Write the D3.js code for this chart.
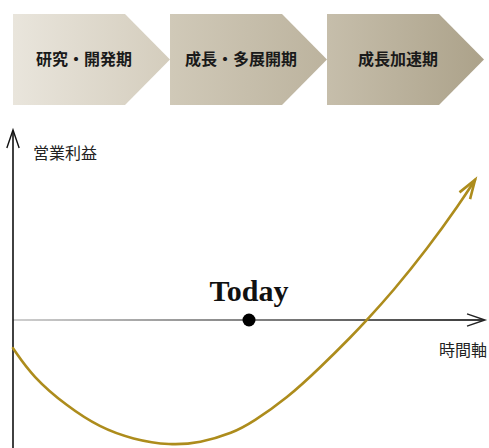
<!DOCTYPE html>
<html>
<head>
<meta charset="utf-8">
<script src="https://cdn.jsdelivr.net/npm/d3@7"></script>
<style>
  html, body { margin: 0; padding: 0; background: #fff; }
  svg { display: block; }
</style>
</head>
<body>
<svg id="chart" width="489" height="448"></svg>
<script>
// Business phases shown as chevrons across the top
const phases = ["研究・開発期", "成長・多展開期", "成長加速期"];
const phaseColors = [["#e9e5dc", "#d4cdbd"], ["#d0c9b8", "#bcb39e"], ["#c6beab", "#aca28a"]];

// Operating profit over time (time 0–100, profit in arbitrary units, 0 = break-even)
const timeValues   = [0, 4.2, 11.4, 18.4, 25.4, 33.3, 39.6, 46.6, 50.8, 58.1, 65, 72, 75, 80.5, 87.7, 94.7, 97.9];
const profitValues = [-8.8, -17.8, -26.9, -33.6, -37.3, -39.2, -38.4, -35.3, -31.9, -24.4, -15, -4.7, 0, 9, 22.1, 36.5, 43.8];

const todayTime = 50;
const todayLabel = "Today";
const yAxisLabel = "営業利益";
const xAxisLabel = "時間軸";

const svg = d3.select("#chart");
const W = 489, H = 448;

// Scales
const x = d3.scaleLinear().domain([0, 100]).range([13, 485]);
const y = d3.scaleLinear().domain([-40, 60]).range([448, 128]);

const defs = svg.append("defs");

// ---- Phase chevrons ----
const phaseBand = d3.scaleBand().domain(phases).range([13, 13 + 157 * 3]).paddingInner(0);
const chevTop = 14, chevBot = 105, chevDepth = 45;

phases.forEach((p, i) => {
  const g = defs.append("linearGradient").attr("id", "pg" + i)
    .attr("x1", "0").attr("x2", "1").attr("y1", "0").attr("y2", "0");
  g.append("stop").attr("offset", "0").attr("stop-color", phaseColors[i][0]);
  g.append("stop").attr("offset", "1").attr("stop-color", phaseColors[i][1]);
});

const chev = svg.append("g").selectAll("g").data(phases).join("g");
chev.append("path")
  .attr("d", d => {
    const x0 = phaseBand(d), x1 = x0 + phaseBand.bandwidth();
    const xr = x1 - chevDepth, ym = (chevTop + chevBot) / 2;
    return `M${x0},${chevTop}L${xr},${chevTop}L${x1},${ym}L${xr},${chevBot}L${x0},${chevBot}Z`;
  })
  .attr("fill", (d, i) => `url(#pg${i})`);
chev.append("text")
  .attr("x", d => phaseBand(d) + 71)
  .attr("y", (chevTop + chevBot) / 2)
  .attr("dy", "0.36em")
  .attr("text-anchor", "middle")
  .attr("font-family", "'Noto Sans CJK JP', sans-serif")
  .attr("font-weight", "bold")
  .attr("font-size", 16)
  .attr("fill", "#1a1a1a")
  .text(d => d);

// ---- Axes ----
function openArrow(g, tipX, tipY, angle, len, half, color, width) {
  // angle: direction the arrow points (radians)
  const a1 = angle + Math.PI - half, a2 = angle + Math.PI + half;
  g.append("path")
    .attr("d", `M${tipX + len * Math.cos(a1)},${tipY + len * Math.sin(a1)}L${tipX},${tipY}L${tipX + len * Math.cos(a2)},${tipY + len * Math.sin(a2)}`)
    .attr("fill", "none").attr("stroke", color).attr("stroke-width", width)
    .attr("stroke-linejoin", "miter").attr("stroke-linecap", "butt");
}

const axes = svg.append("g");

// horizontal time axis (break-even line)
const xg = defs.append("linearGradient").attr("id", "xaxisGrad")
  .attr("gradientUnits", "userSpaceOnUse")
  .attr("x1", x(0)).attr("x2", x(100)).attr("y1", 0).attr("y2", 0);
xg.append("stop").attr("offset", "0").attr("stop-color", "#cfcfcf");
xg.append("stop").attr("offset", "1").attr("stop-color", "#3a3a3a");

axes.append("line")
  .attr("x1", x(0)).attr("x2", x(100) - 1)
  .attr("y1", y(0)).attr("y2", y(0))
  .attr("stroke", "url(#xaxisGrad)").attr("stroke-width", 2);
openArrow(axes, x(100), y(0), 0, 19, 0.33, "#222", 1.4);

// vertical profit axis
axes.append("line")
  .attr("x1", x(0)).attr("x2", x(0))
  .attr("y1", H).attr("y2", 131)
  .attr("stroke", "#111").attr("stroke-width", 1.6);
openArrow(axes, x(0), 130, -Math.PI / 2, 19, 0.33, "#111", 1.4);

axes.append("text")
  .attr("x", 33).attr("y", 159)
  .attr("font-family", "'Noto Sans CJK JP', sans-serif")
  .attr("font-size", 16).attr("fill", "#222")
  .text(yAxisLabel);

axes.append("text")
  .attr("x", 487).attr("y", 356)
  .attr("text-anchor", "end")
  .attr("font-family", "'Noto Sans CJK JP', sans-serif")
  .attr("font-size", 16).attr("fill", "#222")
  .text(xAxisLabel);

// ---- Profit curve ----
const pts = timeValues.map((t, i) => [x(t), y(profitValues[i])]);
const line = d3.line().curve(d3.curveBasis);
const curveColor = "#ad8c1c";
svg.append("path")
  .attr("d", line(pts))
  .attr("fill", "none")
  .attr("stroke", curveColor)
  .attr("stroke-width", 2.6)
  .attr("stroke-linecap", "round");

const nLast = pts.length - 1;
const endAngle = Math.atan2(pts[nLast][1] - pts[nLast - 1][1], pts[nLast][0] - pts[nLast - 1][0]);
openArrow(svg.append("g"), pts[nLast][0], pts[nLast][1], endAngle, 20, 0.32, curveColor, 2.6);

// ---- Today marker ----
svg.append("circle")
  .attr("cx", x(todayTime)).attr("cy", y(0)).attr("r", 6.5)
  .attr("fill", "#000");
svg.append("text")
  .attr("x", x(todayTime)).attr("y", 301)
  .attr("text-anchor", "middle")
  .attr("font-family", "'Liberation Serif', serif")
  .attr("font-weight", "bold")
  .attr("font-size", 30)
  .attr("fill", "#111")
  .text(todayLabel);
</script>
</body>
</html>
